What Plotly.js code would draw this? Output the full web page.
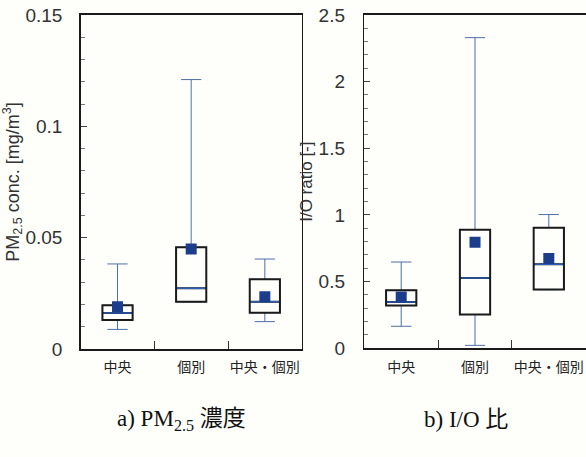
<!DOCTYPE html>
<html>
<head>
<meta charset="utf-8">
<script src="https://cdn.plot.ly/plotly-3.0.1.min.js"></script>
<style>html,body{margin:0;padding:0;background:#fefefb;}#chart{width:586px;height:457px;}</style>
</head>
<body>
<div id="chart"></div>
<script>
const categories = ['中央', '個別', '中央・個別'];

const pmQ1 = [0.0130, 0.0212, 0.0163];
const pmMedian = [0.0162, 0.0273, 0.0212];
const pmQ3 = [0.0196, 0.0457, 0.0313];
const pmLower = [0.0088, 0.0212, 0.0123];
const pmUpper = [0.0382, 0.1210, 0.0404];
const pmMean = [0.0190, 0.0449, 0.0235];

const ioQ1 = [0.320, 0.253, 0.440];
const ioMedian = [0.347, 0.527, 0.630];
const ioQ3 = [0.435, 0.890, 0.905];
const ioLower = [0.165, 0.022, 0.440];
const ioUpper = [0.647, 2.330, 1.003];
const ioMean = [0.385, 0.795, 0.673];

const panelTitles = ['a) PM<sub>2.5</sub> 濃度', 'b) I/O 比'];

const whiskerColor = '#4f6fa6';
const boxColor = '#1a1a1a';
const medianColor = '#2c5fb5';
const meanColor = '#1c3d8c';
const BW = 0.41;

function panel(q1, med, q3, lo, hi, mean, xa, ya) {
  return [
    {type: 'box', x: categories, q1: q1, median: med, q3: q3, lowerfence: lo, upperfence: hi,
     xaxis: xa, yaxis: ya, width: BW, whiskerwidth: 0.67, line: {color: whiskerColor, width: 1},
     fillcolor: 'rgba(0,0,0,0)', hoverinfo: 'skip', showlegend: false},
    {type: 'box', x: categories, q1: q1, median: med, q3: q3, lowerfence: q1, upperfence: q3,
     xaxis: xa, yaxis: ya, width: BW, whiskerwidth: 0, line: {color: boxColor, width: 2},
     fillcolor: '#fefefb', hoverinfo: 'skip', showlegend: false},
    {type: 'box', x: categories, q1: med, median: med, q3: med, lowerfence: med, upperfence: med,
     xaxis: xa, yaxis: ya, width: BW * 0.93, whiskerwidth: 0, line: {color: medianColor, width: 1.6},
     fillcolor: 'rgba(0,0,0,0)', hoverinfo: 'skip', showlegend: false},
    {type: 'scatter', mode: 'markers', x: categories, y: mean, xaxis: xa, yaxis: ya,
     marker: {symbol: 'square', size: 11, color: meanColor}, hoverinfo: 'skip', showlegend: false}
  ];
}

const data = panel(pmQ1, pmMedian, pmQ3, pmLower, pmUpper, pmMean, 'x', 'y')
  .concat(panel(ioQ1, ioMedian, ioQ3, ioLower, ioUpper, ioMean, 'x2', 'y2'));

const tickFont = {family: 'Liberation Sans', size: 19, color: '#333'};
const catFont = {family: 'Noto Sans CJK JP', size: 14, color: '#222'};

function xAxis(domain, anchor) {
  return {domain: domain, anchor: anchor, type: 'category', showline: true, mirror: true,
    linecolor: boxColor, linewidth: 1.5, ticks: 'inside', tickson: 'boundaries', ticklen: 8,
    tickcolor: '#333', tickwidth: 1, showgrid: false, zeroline: false, tickfont: catFont,
    tickangle: 0, ticklabelstandoff: 5, range: [-0.5, 2.5], fixedrange: true};
}
function yAxis(domain, anchor, range, dtick, minor, title, tsize, stand) {
  return {domain: domain, anchor: anchor, range: range, dtick: dtick, showline: true, mirror: true,
    linecolor: boxColor, linewidth: 1.5, ticks: 'inside', ticklen: 6, tickcolor: '#444', tickwidth: 1,
    minor: {dtick: minor, ticks: 'inside', ticklen: 4, tickcolor: '#777', tickwidth: 1, showgrid: false},
    showgrid: false, zeroline: false, tickfont: tickFont, ticklabelstandoff: stand,
    title: {text: title, font: {family: 'Liberation Sans', size: tsize, color: '#333'}, standoff: 1},
    fixedrange: true};
}

const layout = {
  width: 586, height: 457,
  margin: {l: 0, r: 0, t: 0, b: 0},
  paper_bgcolor: '#fefefb', plot_bgcolor: '#fefefb',
  boxmode: 'overlay',
  showlegend: false,
  xaxis: xAxis([0.1377, 0.5148], 'y'),
  yaxis: yAxis([0.2363, 0.9672], 'x', [0, 0.15], 0.05, 0.01, 'PM<sub>2.5</sub> conc. [mg/m<sup>3</sup>]', 18, 13),
  xaxis2: xAxis([0.6217, 0.9995], 'y2'),
  yaxis2: yAxis([0.2379, 0.9672], 'x2', [0, 2.5], 0.5, 0.1, 'I/O ratio [-]', 17, 14),
  annotations: [
    {text: panelTitles[0], xref: 'paper', yref: 'paper', x: 181.5 / 586, y: 0.081, xanchor: 'center', yanchor: 'middle',
     showarrow: false, font: {family: 'Liberation Serif, Noto Sans CJK JP, serif', size: 23, color: '#111'}},
    {text: panelTitles[1], xref: 'paper', yref: 'paper', x: 466 / 586, y: 0.081, xanchor: 'center', yanchor: 'middle',
     showarrow: false, font: {family: 'Liberation Serif, Noto Sans CJK JP, serif', size: 23, color: '#111'}}
  ]
};

Plotly.newPlot('chart', data, layout, {displayModeBar: false, staticPlot: true});
</script>
</body>
</html>
